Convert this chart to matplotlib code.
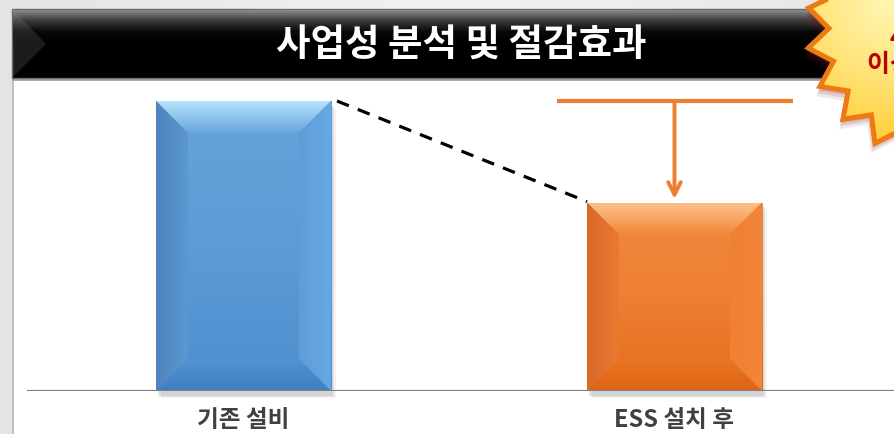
import numpy as np
import matplotlib
matplotlib.use("Agg")
import matplotlib.pyplot as plt
from matplotlib.patches import Rectangle, Polygon
from matplotlib.colors import LinearSegmentedColormap, to_rgba

plt.rcParams['font.family'] = ['Noto Sans CJK KR', 'DejaVu Sans']

# ---- data ----
categories = ['기존 설비', 'ESS 설치 후']
values = [100, 65]
title = '사업성 분석 및 절감효과'
badge_text = '40%\n이상 절감'

W, H = 895, 434
fig = plt.figure(figsize=(W / 100, H / 100), dpi=100)

# ---- background / decoration layer in pixel coords ----
bg = fig.add_axes([0, 0, 1, 1])
bg.set_xlim(0, W)
bg.set_ylim(H, 0)
bg.axis('off')

grad = np.linspace(0, 1, 256).reshape(1, -1)
bgcmap = LinearSegmentedColormap.from_list('bg', ['#e4e4e4', '#f2f2f2', '#e6e6e6'])
bg.imshow(grad, extent=(0, W, H, 0), aspect='auto', cmap=bgcmap, zorder=0)

# white panel
bg.add_patch(Rectangle((13, 78), W, H, facecolor='white', edgecolor='#b8b8b8', lw=1.2, zorder=1))

# header bar
bg.add_patch(Rectangle((12, 77), 842, 4, facecolor='#a8a8a8', edgecolor='none', zorder=2))
hdr = Rectangle((12, 9), 842, 69, facecolor='black', edgecolor='#6a6a6a', lw=1.0, zorder=2)
bg.add_patch(hdr)
topg = np.linspace(0, 1, 64).reshape(-1, 1)
hcmap = LinearSegmentedColormap.from_list('hd', ['#8a8a8a', '#3a3a3a', '#0a0a0a', '#000000'])
bg.imshow(topg, extent=(13, 853, 42, 10), aspect='auto', cmap=hcmap, zorder=3)
chev = Polygon([(13, 10), (46, 44), (13, 77)], closed=True, facecolor='#9a9a9a',
               edgecolor='none', alpha=0.18, zorder=3.5)
bg.add_patch(chev)
bg.set_xlim(0, W)
bg.set_ylim(H, 0)
bg.text(461, 45, title, color='white', fontsize=27, fontweight='bold',
        ha='center', va='center', zorder=4)

# starburst badge
cx, cy, R1, R2, N = 935, 30, 128, 106, 20
a0 = np.deg2rad(171.9)
pts = []
for k in range(2 * N):
    r = R1 if k % 2 == 0 else R2
    a = a0 + k * np.pi / N
    pts.append((cx + r * np.cos(a), cy + r * np.sin(a)))
pts = np.array(pts)
for off, al in [(10, 0.10), (7, 0.15), (4, 0.2)]:
    bg.add_patch(Polygon(pts + np.array([-off * 0.4, off]), closed=True, facecolor='#8a2020',
                         edgecolor='none', alpha=al, zorder=5))
star = Polygon(pts, closed=True, facecolor='#ffd84a', edgecolor='#ee7a12', lw=3.5, zorder=6)
bg.add_patch(star)
yy, xx = np.mgrid[0:200, 0:200]
rad = np.hypot(xx - 60, yy - 80) / 160
scmap = LinearSegmentedColormap.from_list('st', ['#fff6b0', '#ffe47a', '#ffcf3a', '#f7a820'])
im = bg.imshow(rad, extent=(cx - R1, cx + R1, cy + R1, cy - R1), cmap=scmap, vmin=0, vmax=1,
               aspect='auto', zorder=6.5)
im.set_clip_path(star)
bg.add_patch(Polygon(pts, closed=True, facecolor='none', edgecolor='#ee7a12', lw=3.5, zorder=7))
bg.text(916, 52, badge_text, color='#c00000', fontsize=18, fontweight='bold',
        ha='center', va='center', linespacing=1.15, zorder=8)
bg.set_xlim(0, W)
bg.set_ylim(H, 0)

# ---- chart axes ----
ax = fig.add_axes([27 / W, (H - 391) / H, 868 / W, 311 / H])
XL = (-0.5023, 1.5116)
ymax = 311 / 290 * 100
ax.set_xlim(*XL)
ax.set_ylim(0, ymax)
ax.axis('off')
ax.patch.set_alpha(0)

bw = 175 / 431
dx = 32 / 431
dy = 32 / 290 * 100

styles = [
    dict(body=['#4e8ecf', '#5c9bd6', '#66a3db'], top=['#b4e4fd', '#6aa6dc'],
         left=['#4f84bc', '#5c98d2'], right=['#68a8e2', '#5e9dd8'],
         bottom=['#3f7ec0', '#5393d2']),
    dict(body=['#e66c1c', '#ee7f33', '#f08a40'], top=['#fec189', '#f08638'],
         left=['#d8692a', '#ea7a30'], right=['#f28638', '#ef8034'],
         bottom=['#dd6414', '#e97622']),
]


def grad_poly(axis, verts, c0, c1, direction, extent, z):
    """Fill polygon with linear gradient from c0 to c1."""
    poly = Polygon(verts, closed=True, facecolor='none', edgecolor='none', zorder=z)
    axis.add_patch(poly)
    n = 64
    t = np.linspace(0, 1, n)
    a0_, a1_ = np.array(to_rgba(c0)), np.array(to_rgba(c1))
    cols = a0_[None, :] * (1 - t[:, None]) + a1_[None, :] * t[:, None]
    if direction == 'down':      # c0 at top
        arr = cols[:, None, :]
        org = 'upper'
    elif direction == 'up':      # c0 at bottom
        arr = cols[:, None, :]
        org = 'lower'
    elif direction == 'right':   # c0 at left
        arr = cols[None, :, :]
        org = 'upper'
    else:                        # c0 at right
        arr = cols[::-1][None, :, :]
        org = 'upper'
    img = axis.imshow(arr, extent=extent, origin=org, aspect='auto', zorder=z,
                      interpolation='bilinear')
    img.set_clip_path(poly)


for i, (v, st) in enumerate(zip(values, styles)):
    x0, x1 = i - bw / 2, i + bw / 2
    # soft shadow
    for s, al in [(0.012, 0.06), (0.008, 0.08), (0.004, 0.1)]:
        ax.add_patch(Rectangle((x0 + s, -1.2 - s * 100), bw, v, facecolor='#404040',
                               edgecolor='none', alpha=al, zorder=1, clip_on=False))
    bar = ax.bar(i, v, width=bw, color=st['body'][1], zorder=2)[0]
    cm = LinearSegmentedColormap.from_list('b%d' % i, st['body'])
    g = np.linspace(0, 1, 128).reshape(-1, 1)
    img = ax.imshow(g, extent=(x0, x1, 0, v), origin='lower', aspect='auto', cmap=cm, zorder=2.5)
    img.set_clip_path(bar)
    grad_poly(ax, [(x0, v), (x1, v), (x1 - dx, v - dy), (x0 + dx, v - dy)],
              st['top'][0], st['top'][1], 'down', (x0, x1, v - dy, v), 3)
    grad_poly(ax, [(x0, 0), (x0, v), (x0 + dx, v - dy), (x0 + dx, dy)],
              st['left'][0], st['left'][1], 'right', (x0, x0 + dx, 0, v), 3)
    grad_poly(ax, [(x1, 0), (x1, v), (x1 - dx, v - dy), (x1 - dx, dy)],
              st['right'][0], st['right'][1], 'left', (x1 - dx, x1, 0, v), 3)
    grad_poly(ax, [(x0, 0), (x1, 0), (x1 - dx, dy), (x0 + dx, dy)],
              st['bottom'][0], st['bottom'][1], 'up', (x0, x1, 0, dy), 3)
    ax.text(i, -10, categories[i], ha='center', va='center', fontsize=17,
            fontweight='bold', color='#404040', clip_on=False)

ax.set_xlim(*XL)
ax.set_ylim(0, ymax)

# baseline
ax.axhline(0, color='#7f7f7f', lw=1.6, zorder=4)

# dashed connector
ax.plot([bw / 2 + 0.014, 1 - bw / 2], [values[0], values[1] + 0.3], color='black',
        lw=2.3, ls=(0, (4, 3)), zorder=5)

# reduction indicator
ax.plot([0.727, 1.275], [values[0], values[0]], color='#ed7d31', lw=3, zorder=5,
        solid_capstyle='butt')
ax.annotate('', xy=(1, values[1] + 1.2), xytext=(1, values[0]),
            arrowprops=dict(arrowstyle='->,head_width=0.45,head_length=0.9',
                            color='#ed7d31', lw=2.8, shrinkA=0, shrinkB=0), zorder=5)

fig.savefig('out.png', dpi=100)
